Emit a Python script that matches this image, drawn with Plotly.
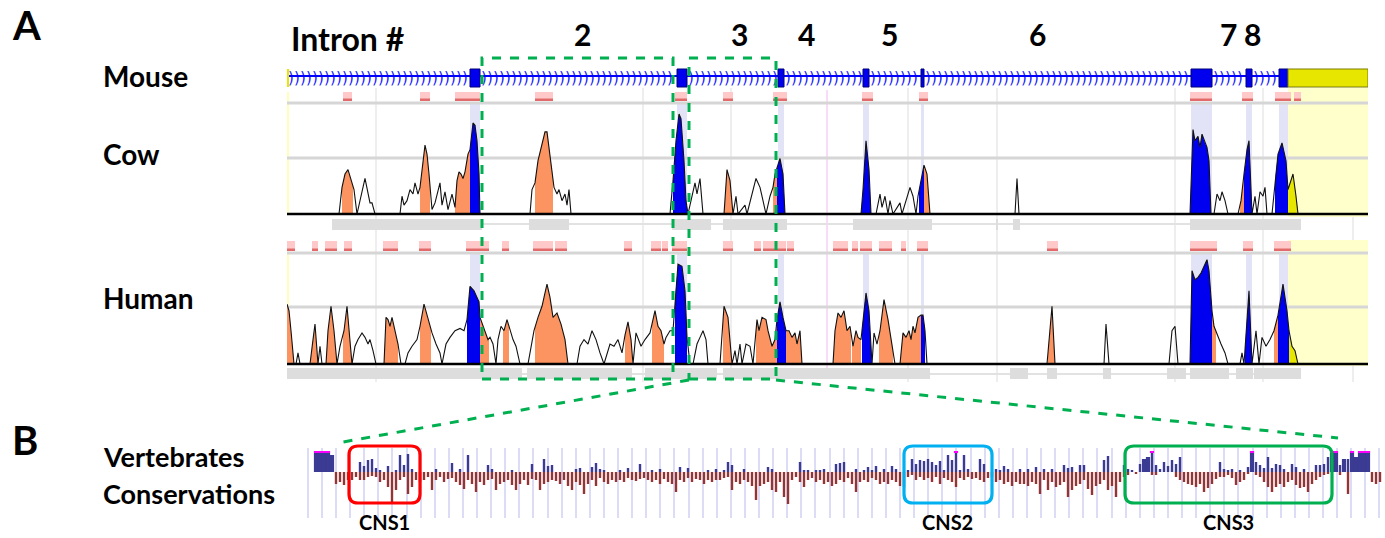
import numpy as np
import plotly.graph_objects as go

W, H = 1385, 538

# ---------------- Panel A : mouse gene model (track position units) ----------
exon_start = [470, 677, 778, 863, 921, 1191, 1246, 1279]
exon_end = [480, 687, 784, 869, 924, 1212, 1252, 1288]
utr_range = [1288, 1368]
intron_names = ["2", "3", "4", "5", "6", "7", "8"]
intron_label_pos = [582, 739, 806, 889, 1037, 1228, 1252]
zoom_boxes = [[482, 673], [689, 776]]

# VISTA conservation profiles (position, % identity)
cow_profile = [
    (287, 50), (339, 50), (342, 62), (345, 68), (348, 70), (352, 64), (354, 61), (357, 50), (365, 66), (370, 55),
    (372, 55), (375, 50), (400, 50), (402, 58), (404, 54), (407, 56), (410, 61), (413, 59), (415, 64), (418, 59),
    (420, 62), (425, 81), (427, 77), (429, 68), (432, 52), (435, 55), (440, 64), (442, 54), (445, 60), (448, 52),
    (452, 59), (455, 53), (457, 65), (459, 69), (461, 68), (463, 66), (465, 69), (468, 77), (470, 79), (473, 91),
    (475, 90), (477, 83), (479, 68), (480, 50), (530, 50), (532, 61), (535, 64), (538, 74), (542, 82), (545, 87),
    (547, 87), (549, 79), (552, 70), (554, 62), (557, 59), (559, 61), (562, 56), (565, 59), (567, 54), (569, 61),
    (571, 50), (670, 50), (673, 65), (676, 83), (679, 95), (681, 93), (684, 74), (686, 56), (688, 50), (692, 58),
    (695, 64), (697, 59), (700, 66), (703, 50), (724, 50), (727, 70), (730, 65), (733, 50), (736, 58), (738, 50),
    (745, 54), (747, 50), (756, 66), (760, 62), (763, 56), (766, 50), (770, 58), (773, 62), (775, 68), (778, 72),
    (780, 75), (783, 68), (785, 50), (861, 50), (863, 61), (866, 83), (869, 70), (871, 50), (876, 50), (880, 59),
    (882, 53), (885, 58), (888, 50), (890, 56), (893, 50), (900, 55), (902, 50), (910, 62), (913, 58), (916, 50),
    (918, 58), (921, 65), (924, 72), (927, 68), (930, 50), (1015, 50), (1017, 66), (1019, 50), (1190, 50), (1193, 88),
    (1195, 83), (1198, 85), (1200, 80), (1202, 86), (1205, 82), (1207, 80), (1209, 74), (1211, 50), (1214, 50), (1217, 59),
    (1220, 56), (1222, 60), (1225, 56), (1228, 50), (1238, 50), (1241, 56), (1244, 68), (1247, 79), (1249, 83), (1252, 50),
    (1255, 58), (1257, 50), (1260, 60), (1263, 58), (1265, 62), (1267, 50), (1272, 50), (1275, 65), (1278, 77), (1282, 82),
    (1286, 74), (1288, 61), (1290, 64), (1293, 68), (1296, 58), (1298, 50), (1368, 50),
]
human_profile = [
    (287, 77), (289, 74), (291, 65), (294, 50), (296, 50), (298, 55), (300, 50), (310, 50), (313, 61), (315, 68),
    (318, 50), (320, 58), (322, 50), (326, 50), (328, 65), (331, 76), (334, 65), (337, 50), (340, 58), (342, 61),
    (344, 65), (347, 76), (350, 61), (352, 50), (355, 58), (358, 61), (362, 64), (365, 62), (368, 59), (370, 61),
    (373, 56), (376, 50), (384, 50), (386, 71), (388, 70), (390, 67), (392, 71), (395, 65), (398, 59), (401, 50),
    (405, 50), (408, 55), (412, 58), (417, 61), (420, 67), (424, 77), (428, 70), (432, 64), (436, 59), (440, 55),
    (442, 50), (446, 59), (450, 62), (455, 65), (460, 66), (464, 65), (467, 70), (470, 85), (474, 83), (477, 80),
    (479, 78), (480, 71), (485, 65), (488, 61), (490, 62), (493, 59), (496, 50), (498, 61), (501, 67), (504, 65),
    (507, 70), (510, 65), (513, 61), (516, 58), (520, 50), (528, 50), (532, 61), (534, 65), (538, 71), (542, 76),
    (545, 82), (547, 86), (550, 80), (553, 71), (557, 73), (561, 68), (565, 61), (568, 50), (577, 50), (580, 58),
    (584, 61), (588, 59), (592, 65), (596, 61), (600, 55), (604, 50), (610, 59), (614, 58), (618, 61), (622, 55),
    (625, 63), (628, 69), (631, 61), (633, 50), (636, 64), (641, 58), (645, 61), (650, 64), (655, 74), (658, 67),
    (661, 65), (664, 59), (666, 62), (670, 65), (673, 65), (675, 79), (678, 95), (682, 94), (685, 83), (687, 62),
    (690, 50), (693, 50), (697, 59), (700, 62), (703, 65), (706, 61), (708, 50), (720, 50), (724, 76), (728, 71),
    (732, 50), (735, 56), (737, 50), (740, 59), (742, 50), (746, 59), (750, 58), (753, 50), (757, 70), (759, 65),
    (762, 71), (766, 70), (768, 65), (772, 58), (775, 61), (777, 70), (780, 78), (783, 71), (786, 65), (789, 65),
    (792, 62), (795, 64), (797, 59), (800, 65), (802, 50), (833, 50), (835, 65), (838, 73), (841, 71), (844, 74),
    (847, 65), (850, 67), (853, 58), (856, 65), (858, 62), (861, 61), (863, 70), (866, 82), (869, 74), (872, 50),
    (874, 64), (877, 59), (880, 65), (884, 79), (888, 70), (892, 59), (895, 50), (900, 50), (903, 64), (906, 62),
    (909, 65), (911, 61), (913, 67), (915, 64), (918, 71), (921, 72), (923, 72), (925, 65), (927, 50), (1047, 50),
    (1052, 76), (1055, 50), (1104, 50), (1106, 68), (1109, 50), (1169, 50), (1172, 65), (1175, 67), (1178, 50), (1190, 50),
    (1192, 92), (1195, 88), (1198, 89), (1201, 91), (1205, 95), (1207, 97), (1209, 92), (1212, 74), (1214, 67), (1218, 62),
    (1221, 59), (1225, 55), (1228, 50), (1240, 50), (1242, 55), (1244, 50), (1246, 65), (1249, 83), (1252, 50), (1256, 65),
    (1259, 50), (1262, 62), (1266, 58), (1270, 61), (1274, 65), (1278, 72), (1283, 86), (1287, 74), (1289, 65), (1292, 58),
    (1295, 56), (1298, 50), (1368, 50),
]

# coloured (conserved) regions under the curves
cow_cns = [[342, 353], [420, 430], [455, 470], [535, 553], [724, 733], [773, 777], [924, 930], [1240, 1244]]
cow_exon_peaks = [[470, 480], [673, 688], [777, 785], [861, 871], [919, 924], [1190, 1211], [1244, 1252], [1275, 1288]]
cow_utr_peaks = [[1288, 1298]]
human_cns = [[287, 294], [311, 318], [326, 337], [343, 353], [384, 398], [420, 431], [480, 489], [503, 509],
             [535, 567], [625, 632], [652, 664], [723, 731], [756, 777], [786, 802], [833, 851], [852, 861],
             [879, 893], [900, 921], [1048, 1056], [1212, 1216], [1274, 1278]]
human_exon_peaks = [[467, 480], [675, 687], [777, 786], [862, 872], [921, 925], [1190, 1212], [1245, 1252], [1278, 1289]]
human_utr_peaks = [[1289, 1298]]

# conserved-region bars above each track and aligned-region bars below
cow_pink = [[343, 352], [420, 430], [455, 480], [535, 553], [675, 687], [723, 733], [773, 787], [862, 873],
            [919, 928], [1190, 1212], [1242, 1253], [1275, 1291], [1294, 1301]]
human_pink = [[287, 295], [312, 318], [325, 337], [344, 352], [383, 398], [419, 431], [466, 489], [502, 509],
              [533, 553], [555, 567], [624, 632], [651, 661], [662, 668], [672, 687], [723, 733], [754, 761],
              [763, 777], [777, 786], [787, 794], [833, 848], [852, 858], [860, 872], [879, 892], [901, 906],
              [917, 928], [1047, 1058], [1190, 1217], [1243, 1253], [1274, 1291]]
cow_gray = [[332, 482], [529, 569], [672, 711], [723, 787], [853, 932], [996, 998], [1013, 1020], [1190, 1301]]
human_gray = [[287, 522], [527, 632], [645, 717], [723, 930], [1010, 1028], [1047, 1057], [1103, 1111],
              [1167, 1186], [1190, 1229], [1236, 1253], [1254, 1301]]
grid_pos = [376, 643, 731, 908, 997, 1175, 1263, 1353]

# ---------------- Panel B : vertebrate conservation (intron 3) ----------------
bin_start, bin_step = 316, 4
cons_up = [
    19, 19, 19, 19, 17,
    0, 0, 0, 0, 0, 0, 10, 6, 12, 13, 4, 2, 0, 6, 0, 2, 17, 7, 18, 3,
    0, 0, 0, 0, 0, 3, 0, 0, 0, 9, 0, 3, 0, 17, 0, 0, 0, 0, 7, 3,
    0, 0, 0, 0, 2, 0, 0, 0, 0, 8, 0, 0, 13, 6, 7, 0, 0, 0, 0, 0,
    3, 4, 0, 0, 5, 9, 3, 2, 0, 0, 0, 2, 0, 4, 0, 0, 8, 0, 0, 2,
    0, 3, 0, 0,
    0, 0, 5, 0, 4, 0, 0, 0, 0, 2, 0, 3, 0, 2, 10, 7, 0, 0, 3, 0,
    0, 0, 0, 0, 5, 3, 0, 0, 0, 0, 0, 0, 10, 2, 2, 0, 2, 2, 3, 0,
    0, 8, 9, 10, 0, 0, 3, 0, 2, 5, 2, 6, 0, 3, 0, 6, 3, 0, 0, 2,
    13, 8, 12, 11, 13, 10, 7, 11, 2, 17, 12, 19, 2, 17, 3, 0, 0, 13, 8, 0,
    0, 3, 2, 6, 3, 0, 0, 3,
    0, 3, 0, 5, 0, 3, 0, 3, 0, 0, 7, 4, 5, 0, 7, 7, 0, 0, 0, 0,
    12, 16, 0, 0, 0, 7, 3, 2, 0, 8, 13, 15, 19, 7, 3, 10, 6, 12, 8, 15,
    0, 0, 0, 0, 0, 0, 0, 0, 0, 10, 3, 2, 3, 0, 2, 0, 5, 19, 10, 7,
    4, 15, 4, 8, 7, 3, 0, 8, 5, 0, 3, 0, 0, 7, 7, 8, 15, 19, 19, 7,
    13, 13, 19, 15, 19, 19, 19, 0, 0, 0,
]
cons_down = [
    0, 0, 0, 0, 0,
    12, 10, 13, 8, 8, 5, 8, 8, 5, 4, 5, 10, 8, 15, 30, 18, 8, 5, 22, 15,
    8, 10, 8, 5, 18, 8, 5, 10, 7, 6, 10, 13, 17, 8, 12, 20, 10, 13, 8, 7,
    18, 12, 10, 8, 13, 18, 12, 8, 13, 7, 8, 18, 12, 10, 8, 9, 12, 8, 14, 18,
    10, 13, 22, 12, 8, 14, 6, 10, 12, 8, 10, 8, 10, 6, 8, 9, 7, 6, 8, 10,
    8, 12, 7, 10,
    12, 20, 8, 10, 6, 10, 7, 8, 12, 8, 10, 8, 8, 6, 5, 18, 10, 12, 8, 10,
    14, 28, 14, 12, 10, 18, 20, 10, 25, 32, 8, 5, 10, 15, 8, 6, 10, 8, 12, 10,
    14, 12, 8, 10, 6, 12, 20, 10, 8, 10, 6, 8, 12, 10, 12, 8, 10, 14, 15, 5,
    3, 8, 5, 8, 6, 10, 5, 12, 6, 8, 10, 15, 6, 8, 5, 7, 6, 8, 10, 6,
    5, 10, 8, 12, 10, 14, 10, 12,
    12, 14, 10, 12, 22, 8, 18, 10, 15, 13, 10, 25, 18, 14, 12, 8, 17, 23, 14, 12,
    8, 18, 14, 25, 10, 5, 3, 0, 2, 0, 0, 0, 3, 3, 0, 0, 0, 0, 5, 8,
    10, 12, 13, 15, 12, 20, 16, 12, 7, 5, 5, 3, 6, 13, 10, 8, 2, 0, 3, 5,
    10, 15, 20, 15, 12, 15, 10, 8, 13, 16, 15, 20, 12, 8, 5, 3, 2, 0, 0, 3,
    0, 22, 0, 0, 0, 0, 0, 10, 12, 10,
]
cns_names = ["CNS1", "CNS2", "CNS3"]
cns_start = [349, 904, 1125]
cns_end = [420, 992, 1332]
cns_colors = ["#ff0000", "#00b0f0", "#00b050"]

# ============================================================================
FONT = "Lato"
ORANGE, BLUE, YEL = "#fb9460", "#0000f0", "#e6e600"
GREEN = "#00b050"


def py(p):
    return 1 - p / H


fig = go.Figure()
shapes = []


def rect(x0, x1, y0p, y1p, color, xref="x", layer="below", line=None):
    shapes.append(dict(type="rect", xref=xref, yref="paper", x0=x0, x1=x1, y0=py(y1p), y1=py(y0p),
                       fillcolor=color, line=line or dict(width=0), layer=layer))


def hline(x0, x1, yp, color, width, layer="below", dash="solid", xref="x"):
    shapes.append(dict(type="line", xref=xref, yref="paper", x0=x0, x1=x1, y0=py(yp), y1=py(yp),
                       line=dict(color=color, width=width, dash=dash), layer=layer))


tracks = [
    dict(profile=cow_profile, cns=cow_cns, exon=cow_exon_peaks, utr=cow_utr_peaks, pink=cow_pink, gray=cow_gray,
         yaxis="y", pinkp=(92, 101), top=103, mid=158, base=214, thin=224, grayp=(219, 230), bg=(88, 217), thin_x0=332),
    dict(profile=human_profile, cns=human_cns, exon=human_exon_peaks, utr=human_utr_peaks, pink=human_pink,
         gray=human_gray, yaxis="y2", pinkp=(241, 251), top=253, mid=307, base=364, thin=374, grayp=(368, 379),
         bg=(240, 366), thin_x0=287),
]

# vertical grid lines of panel A
for gx in grid_pos:
    shapes.append(dict(type="line", xref="x", yref="paper", x0=gx, x1=gx, y0=py(382), y1=py(88),
                       line=dict(color="#e8e8e8", width=1.5), layer="below"))
shapes.append(dict(type="line", xref="x", yref="paper", x0=827, x1=827, y0=py(376), y1=py(90),
                   line=dict(color="#f6b8f0", width=1), layer="below"))

for tr in tracks:
    rect(utr_range[0], utr_range[1], tr["bg"][0], tr["bg"][1], "#ffffcc")
    rect(287, 289, tr["pinkp"][0], tr["base"], "#ffffbb")
    for a, b in zip(exon_start, exon_end):
        rect(a, b, tr["top"], tr["base"], "#e3e3f7")
    hline(287, 1368, tr["top"], "#d6d6d6", 3)
    hline(287, 1368, tr["mid"], "#d6d6d6", 3)
    hline(tr["thin_x0"], 1301, tr["thin"], "#e2e2e2", 2)
    for a, b in tr["pink"]:
        rect(a, b, tr["pinkp"][0], tr["pinkp"][1], "#ffc9c9")
        rect(a, b, tr["pinkp"][1] - 2.5, tr["pinkp"][1], "#e36a6a")
    for a, b in tr["gray"]:
        rect(a, b, tr["grayp"][0], tr["grayp"][1], "#dddddd")

    xs = np.array([p[0] for p in tr["profile"]], dtype=float)
    ys = np.array([p[1] for p in tr["profile"]], dtype=float)
    for regions, col in ((tr["cns"], ORANGE), (tr["exon"], BLUE), (tr["utr"], YEL)):
        for a, b in regions:
            inner = xs[(xs > a) & (xs < b)]
            fx = np.concatenate([[a], inner, [b]])
            fy = np.interp(fx, xs, ys)
            fig.add_trace(go.Scatter(x=list(fx) + [b, a], y=list(fy) + [50, 50], fill="toself", fillcolor=col,
                                     mode="lines", line=dict(width=0), xaxis="x", yaxis=tr["yaxis"],
                                     hoverinfo="skip", showlegend=False))
    fig.add_trace(go.Scatter(x=xs, y=ys, mode="lines", line=dict(color="#111111", width=1.1),
                             xaxis="x", yaxis=tr["yaxis"], hoverinfo="skip", showlegend=False))
    hline(287, 1368, tr["base"], "#000000", 2.6, layer="above")

# ---- mouse gene model ----
hline(287, utr_range[0], 76, "#0000ff", 2.2, layer="above")
rect(287, 289, 69, 87, "#e6e600", layer="above")
edges = [287] + exon_end
starts = exon_start + [utr_range[0]]
chev = []
for a, b in zip(edges, starts):
    chev.extend(list(np.arange(a + 4, b - 2, 6.0)))
fig.add_trace(go.Scatter(x=chev, y=[-0.15] * len(chev), mode="text", text=[")"] * len(chev),
                         textfont=dict(size=15, color="#1a1aff", family="DejaVu Sans"),
                         xaxis="x", yaxis="y4", hoverinfo="skip", showlegend=False))
for a, b in zip(exon_start, exon_end):
    rect(a, b, 69, 87, "#0000ee", layer="above", line=dict(color="#00007a", width=1))
rect(utr_range[0], utr_range[1], 69, 87, YEL, layer="above", line=dict(color="#7c7c00", width=1))

# ---- green dashed zoom boxes ----
for a, b in zoom_boxes:
    shapes.append(dict(type="rect", xref="x", yref="paper", x0=a, x1=b, y0=py(379), y1=py(58),
                       line=dict(color=GREEN, width=3, dash="dash"), fillcolor="rgba(0,0,0,0)", layer="above"))
shapes.append(dict(type="line", xref="paper", yref="paper", x0=zoom_boxes[1][0] / W, y0=py(380),
                   x1=343 / W, y1=py(442), line=dict(color=GREEN, width=3, dash="dash")))
shapes.append(dict(type="line", xref="paper", yref="paper", x0=zoom_boxes[1][1] / W, y0=py(380),
                   x1=1338 / W, y1=py(438), line=dict(color=GREEN, width=3, dash="dash")))

# ---- panel B bars ----
n = min(len(cons_up), len(cons_down))
up = np.array(cons_up[:n], dtype=float)
dn = np.array(cons_down[:n], dtype=float)
xb = bin_start + bin_step * np.arange(n)
solid = (up >= 13) & (dn == 0)          # exon blocks drawn as solid runs
wid = np.where(solid, 4.2, 2.4)
fig.add_trace(go.Bar(x=xb, y=up, width=wid, marker=dict(color="#3b3b93", line=dict(width=0)),
                     xaxis="x2", yaxis="y3", hoverinfo="skip", showlegend=False))
fig.add_trace(go.Bar(x=xb, y=-dn, width=2.4, marker=dict(color="#933535", line=dict(width=0)),
                     xaxis="x2", yaxis="y3", hoverinfo="skip", showlegend=False))
m = up >= 19
fig.add_trace(go.Bar(x=xb[m], y=[2] * int(m.sum()), base=up[m], width=4.2,
                     marker=dict(color="#ff00ff", line=dict(width=0)),
                     xaxis="x2", yaxis="y3", hoverinfo="skip", showlegend=False))

# CNS boxes (panel B x units equal pixels)
r = 9
yt, yb = py(446), py(503)
for name, a, b, col in zip(cns_names, cns_start, cns_end, cns_colors):
    x0, x1 = a / W, b / W
    rx, ry = r / W, r / H
    path = (f"M {x0+rx},{yt} L {x1-rx},{yt} Q {x1},{yt} {x1},{yt-ry} L {x1},{yb+ry} Q {x1},{yb} {x1-rx},{yb} "
            f"L {x0+rx},{yb} Q {x0},{yb} {x0},{yb+ry} L {x0},{yt-ry} Q {x0},{yt} {x0+rx},{yt} Z")
    shapes.append(dict(type="path", xref="paper", yref="paper", path=path, line=dict(color=col, width=3.2),
                       layer="above"))

# ---- text ----
ann = []


def txt(x, y, s, size, xanchor="center", xref="paper"):
    ann.append(dict(x=x, y=py(y), xref=xref, yref="paper", text=f"<b>{s}</b>", showarrow=False,
                    xanchor=xanchor, yanchor="middle", font=dict(family=FONT, size=size, color="#000000")))


txt(10 / W, 25, "A", 40, "left")
txt(10 / W, 440, "B", 40, "left")
txt(289 / W, 38, "Intron #", 32, "left")
for nm, pos in zip(intron_names, intron_label_pos):
    txt(pos, 34, nm, 30, "center", xref="x")
txt(101 / W, 76, "Mouse", 28, "left")
txt(101 / W, 154, "Cow", 28, "left")
txt(101 / W, 298, "Human", 28, "left")
txt(101 / W, 456, "Vertebrates", 27, "left")
txt(101 / W, 493, "Conservations", 27, "left")
for name, a, b in zip(cns_names, cns_start, cns_end):
    txt((a + b) / 2 / W, 522, name, 20)

noax = dict(visible=False, fixedrange=True)
fig.update_layout(
    width=W, height=H, margin=dict(l=0, r=0, t=0, b=0),
    paper_bgcolor="white", plot_bgcolor="white", showlegend=False, barmode="overlay",
    xaxis=dict(domain=[287 / W, 1368 / W], range=[287, 1368], **noax),
    yaxis=dict(domain=[py(214), py(103)], range=[50, 100], anchor="x", **noax),
    yaxis2=dict(domain=[py(364), py(253)], range=[50, 100], anchor="x", **noax),
    yaxis4=dict(domain=[py(95), py(57)], range=[-1, 1], anchor="x", **noax),
    xaxis2=dict(domain=[300 / W, 1.0], range=[300, 1385], anchor="y3", showgrid=True, gridcolor="#dcdcf7",
                gridwidth=1.5, tickmode="linear", tick0=336, dtick=14.1, showticklabels=False, ticks="",
                zeroline=False, showline=False, fixedrange=True),
    yaxis3=dict(domain=[py(518), py(448)], range=[-46, 24], anchor="x2", **noax),
    shapes=shapes, annotations=ann,
)
fig.write_html(
    "out.html",
    config={"displayModeBar": False},
    post_script="document.body.style.margin='0px';document.body.style.padding='0px';"
                "document.documentElement.style.overflow='hidden';",
)
